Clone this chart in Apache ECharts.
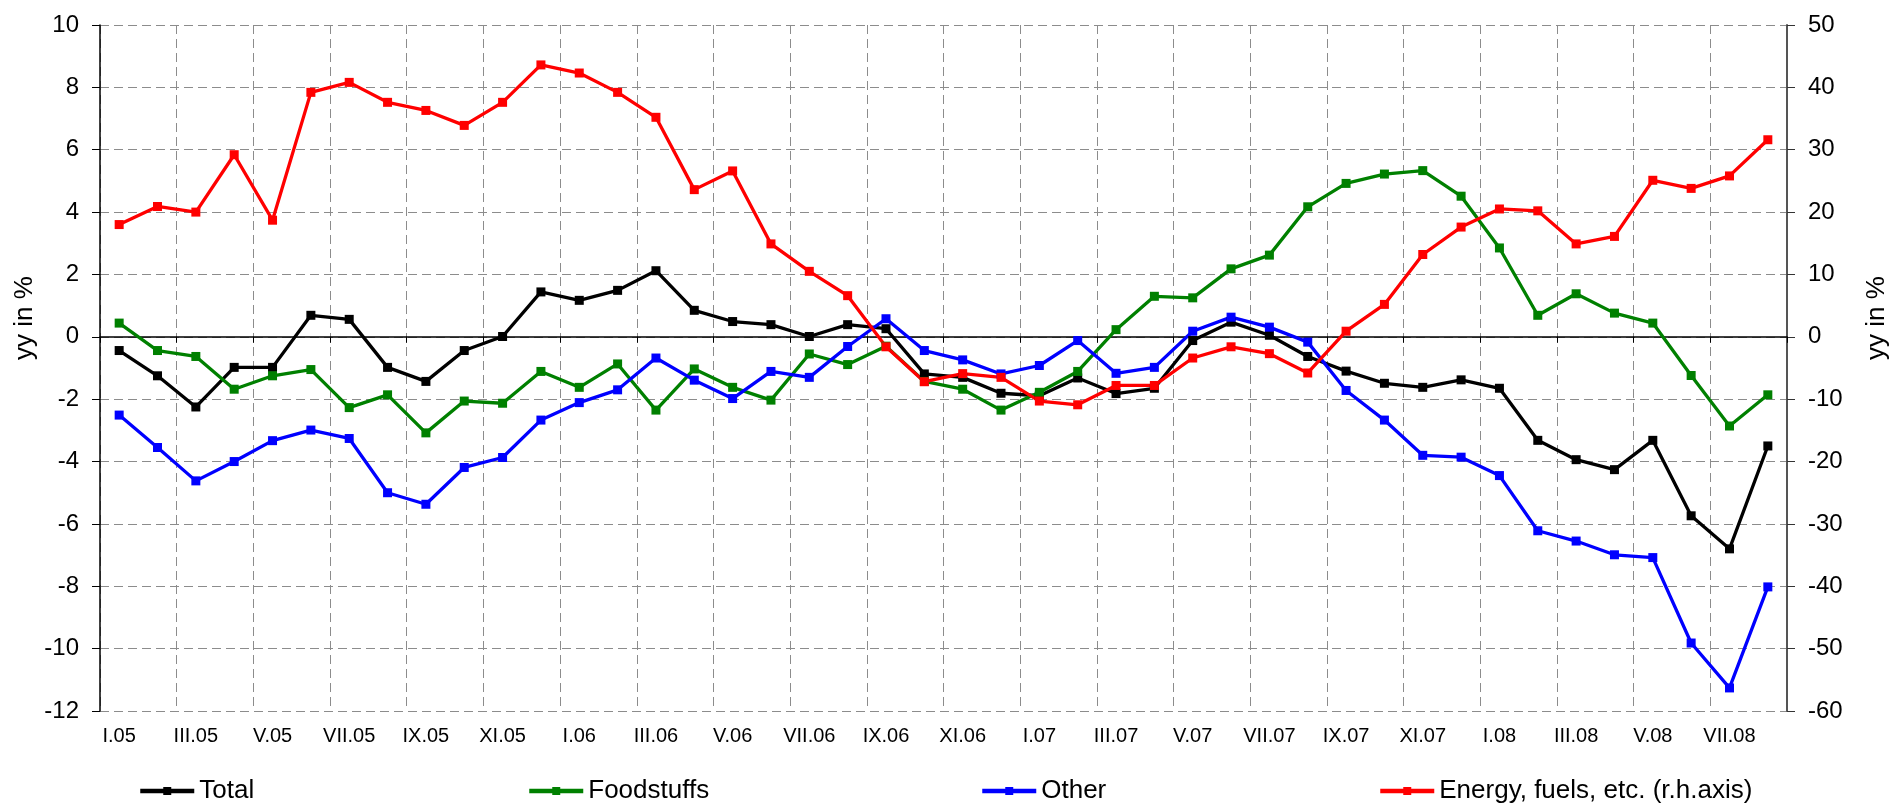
<!DOCTYPE html>
<html>
<head>
<meta charset="utf-8">
<script src="https://cdn.jsdelivr.net/npm/echarts@6/dist/echarts.min.js"></script>
<style>
  html, body { margin: 0; padding: 0; background: #fff; }
  #m1 { width: 1892px; height: 803px; }
</style>
</head>
<body>
<div id="m1"></div>
<script>
// monthly data, I.05 - VIII.08
var months = ['I.05','II.05','III.05','IV.05','V.05','VI.05','VII.05','VIII.05','IX.05','X.05','XI.05','XII.05',
    'I.06','II.06','III.06','IV.06','V.06','VI.06','VII.06','VIII.06','IX.06','X.06','XI.06','XII.06',
    'I.07','II.07','III.07','IV.07','V.07','VI.07','VII.07','VIII.07','IX.07','X.07','XI.07','XII.07',
    'I.08','II.08','III.08','IV.08','V.08','VI.08','VII.08','VIII.08'];

var total = [-0.44,-1.25,-2.25,-0.98,-0.98,0.69,0.56,-0.98,-1.43,-0.44,0.01,1.44,
    1.17,1.49,2.12,0.85,0.49,0.39,0.01,0.39,0.26,-1.19,-1.30,-1.81,
    -1.89,-1.32,-1.82,-1.65,-0.12,0.47,0.05,-0.63,-1.10,-1.49,-1.62,-1.38,
    -1.65,-3.32,-3.94,-4.26,-3.32,-5.74,-6.80,-3.50];

var foodstuffs = [0.44,-0.44,-0.63,-1.68,-1.25,-1.05,-2.27,-1.86,-3.08,-2.06,-2.13,-1.11,
    -1.62,-0.87,-2.35,-1.03,-1.62,-2.03,-0.55,-0.89,-0.30,-1.43,-1.68,-2.35,
    -1.78,-1.11,0.23,1.30,1.25,2.18,2.62,4.17,4.92,5.22,5.33,4.51,
    2.85,0.69,1.38,0.76,0.44,-1.24,-2.86,-1.86];

var other = [-2.51,-3.55,-4.62,-4.00,-3.33,-2.99,-3.26,-5.00,-5.37,-4.19,-3.87,-2.67,
    -2.11,-1.70,-0.68,-1.39,-1.98,-1.11,-1.30,-0.31,0.58,-0.44,-0.74,-1.19,
    -0.92,-0.12,-1.17,-0.98,0.18,0.63,0.31,-0.17,-1.72,-2.67,-3.80,-3.86,
    -4.45,-6.22,-6.55,-6.99,-7.08,-9.82,-11.26,-8.02];

// r.h. axis
var energy = [18.0,20.9,20.0,29.2,18.7,39.2,40.8,37.6,36.3,33.9,37.6,43.6,
    42.3,39.2,35.2,23.6,26.6,14.9,10.5,6.6,-1.6,-7.2,-5.9,-6.5,
    -10.3,-10.9,-7.8,-7.8,-3.4,-1.6,-2.7,-5.8,0.9,5.2,13.2,17.6,
    20.5,20.2,14.9,16.1,25.1,23.8,25.8,31.6];

var seriesNames = ['Total', 'Foodstuffs', 'Other', 'Energy, fuels, etc. (r.h.axis)'];
var colors = ['#000000', '#008000', '#0000ff', '#ff0000'];
var legendLeft = [138, 527, 980, 1378];

var font = "'Liberation Sans', Arial, sans-serif";
var gridDash = { color: '#8c8c8c', type: [9, 5], width: 1 };

var myChart = echarts.init(document.getElementById('m1'));

function lineSeries(i, data, yIndex) {
    return {
        name: seriesNames[i],
        type: 'line',
        yAxisIndex: yIndex,
        data: data,
        symbol: 'rect',
        symbolSize: 9,
        showSymbol: true,
        animation: false,
        lineStyle: { color: colors[i], width: 3.3 },
        itemStyle: { color: colors[i] }
    };
}

var legends = seriesNames.map(function (n, i) {
    return {
        data: [n],
        left: legendLeft[i],
        top: 778,
        padding: 0,
        itemWidth: 54,
        itemHeight: 10,
        itemGap: 0,
        lineStyle: { width: 4.5 },
        textStyle: { fontFamily: font, fontSize: 26, color: '#000' }
    };
});

var option = {
    backgroundColor: '#fff',
    animation: false,
    legend: legends,
    grid: {
        left: 100,
        right: 105,
        top: 25,
        bottom: 92,
        containLabel: false
    },
    xAxis: [
        {
            type: 'category',
            data: months,
            boundaryGap: true,
            position: 'bottom',
            axisLine: { show: false, onZero: false },
            axisTick: { show: false },
            axisLabel: {
                interval: 1,
                margin: 15,
                fontFamily: font,
                fontSize: 20,
                color: '#000'
            },
            splitLine: { show: true, interval: 1, lineStyle: gridDash }
        },
        {
            // zero line with ticks
            type: 'category',
            data: months,
            boundaryGap: true,
            position: 'bottom',
            axisLine: { show: true, onZero: true, onZeroAxisIndex: 0, lineStyle: { color: '#000', width: 1.5 } },
            axisTick: { show: true, interval: 1, length: 6, lineStyle: { color: '#000' } },
            axisLabel: { show: false },
            splitLine: { show: false }
        }
    ],
    yAxis: [
        {
            type: 'value',
            min: -12,
            max: 10,
            interval: 2,
            position: 'left',
            axisLine: { show: true, onZero: false, lineStyle: { color: '#000', width: 1.5 } },
            axisTick: { show: true, length: 8, lineStyle: { color: '#000' } },
            axisLabel: { margin: 21, fontFamily: font, fontSize: 24, color: '#000' },
            splitLine: { show: true, lineStyle: gridDash }
        },
        {
            type: 'value',
            min: -60,
            max: 50,
            interval: 10,
            position: 'right',
            axisLine: { show: true, onZero: false, lineStyle: { color: '#555', width: 2 } },
            axisTick: { show: true, length: 8, lineStyle: { color: '#333' } },
            axisLabel: { margin: 21, fontFamily: font, fontSize: 24, color: '#000' },
            splitLine: { show: false }
        }
    ],
    graphic: [
        {
            type: 'text',
            x: 25,
            y: 318,
            rotation: Math.PI / 2,
            style: {
                text: 'yy in %',
                fontFamily: font,
                fontSize: 26,
                fill: '#000',
                align: 'center',
                verticalAlign: 'middle'
            }
        },
        {
            type: 'text',
            x: 1877,
            y: 318,
            rotation: Math.PI / 2,
            style: {
                text: 'yy in %',
                fontFamily: font,
                fontSize: 26,
                fill: '#000',
                align: 'center',
                verticalAlign: 'middle'
            }
        }
    ],
    series: [
        lineSeries(0, total, 0),
        lineSeries(1, foodstuffs, 0),
        lineSeries(2, other, 0),
        lineSeries(3, energy, 1)
    ]
};
myChart.setOption(option);
</script>
</body>
</html>
